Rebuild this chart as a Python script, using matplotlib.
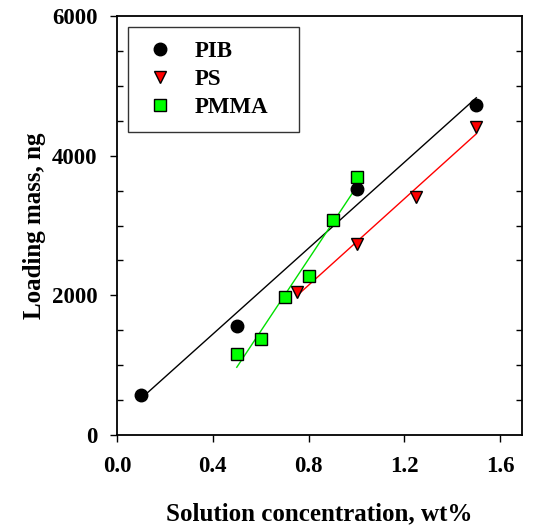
import numpy as np
import matplotlib
matplotlib.use("Agg")
import matplotlib.pyplot as plt
from matplotlib.ticker import MultipleLocator

# data
pib_x = [0.1, 0.5, 1.0, 1.5]
pib_y = [570, 1565, 3530, 4730]
ps_x = [0.75, 1.0, 1.25, 1.5]
ps_y = [2050, 2740, 3415, 4405]
pmma_x = [0.5, 0.6, 0.7, 0.8, 0.9, 1.0]
pmma_y = [1160, 1375, 1980, 2280, 3085, 3690]

plt.rcParams['font.family'] = ['Liberation Serif', 'DejaVu Serif']
plt.rcParams['font.weight'] = 'bold'

fig = plt.figure(figsize=(5.33, 5.25), dpi=100)
ax = fig.add_axes([0.2195, 0.1714, 0.7595, 0.798])

def fit_line(x, y, color):
    k, b = np.polyfit(x, y, 1)
    xx = np.array([min(x), max(x)])
    ax.plot(xx, k * xx + b, color=color, linewidth=1.0, zorder=2)

fit_line(pib_x, pib_y, 'black')
fit_line(ps_x, ps_y, 'red')
fit_line(pmma_x, pmma_y, '#00e000')

ax.plot(pib_x, pib_y, 'o', color='black', markersize=9, label='PIB', zorder=3)
ax.plot(ps_x, ps_y, 'v', markerfacecolor='red', markeredgecolor='black',
        markersize=9, markeredgewidth=1.0, label='PS', zorder=3)
ax.plot(pmma_x, pmma_y, 's', markerfacecolor='#00ff00', markeredgecolor='black',
        markersize=8.5, markeredgewidth=1.0, label='PMMA', zorder=3)

ax.set_xlim(0, 1.69)
ax.set_ylim(0, 6000)
ax.xaxis.set_major_locator(MultipleLocator(0.4))
ax.yaxis.set_major_locator(MultipleLocator(2000))
ax.yaxis.set_minor_locator(MultipleLocator(500))
ax.xaxis.set_major_formatter(plt.FuncFormatter(lambda v, p: f"{v:.1f}"))

ax.tick_params(axis='x', which='major', direction='out', length=5, width=1,
               pad=10, labelsize=16.5, top=False)
ax.tick_params(axis='y', which='major', direction='out', length=5, width=1,
               pad=9, labelsize=16.5, right=False)
ax.tick_params(axis='y', which='minor', direction='in', length=4, width=1,
               left=True, right=True)
for s in ax.spines.values():
    s.set_linewidth(1.3)

ax.set_xlabel('Solution concentration, wt%', fontsize=18, fontweight='bold', labelpad=18)
ax.set_ylabel('Loading mass, ng', fontsize=18, fontweight='bold', labelpad=4)

leg = ax.legend(loc='upper left', bbox_to_anchor=(0.027, 0.974, 0.422, 0.0),
                mode='expand', frameon=True,
                fancybox=False, edgecolor='black', fontsize=16.5,
                handletextpad=0.7, borderpad=0.62, labelspacing=0.3,
                borderaxespad=0, handlelength=1.6)
leg.get_frame().set_linewidth(1.0)

fig.savefig('out.png', dpi=100)
